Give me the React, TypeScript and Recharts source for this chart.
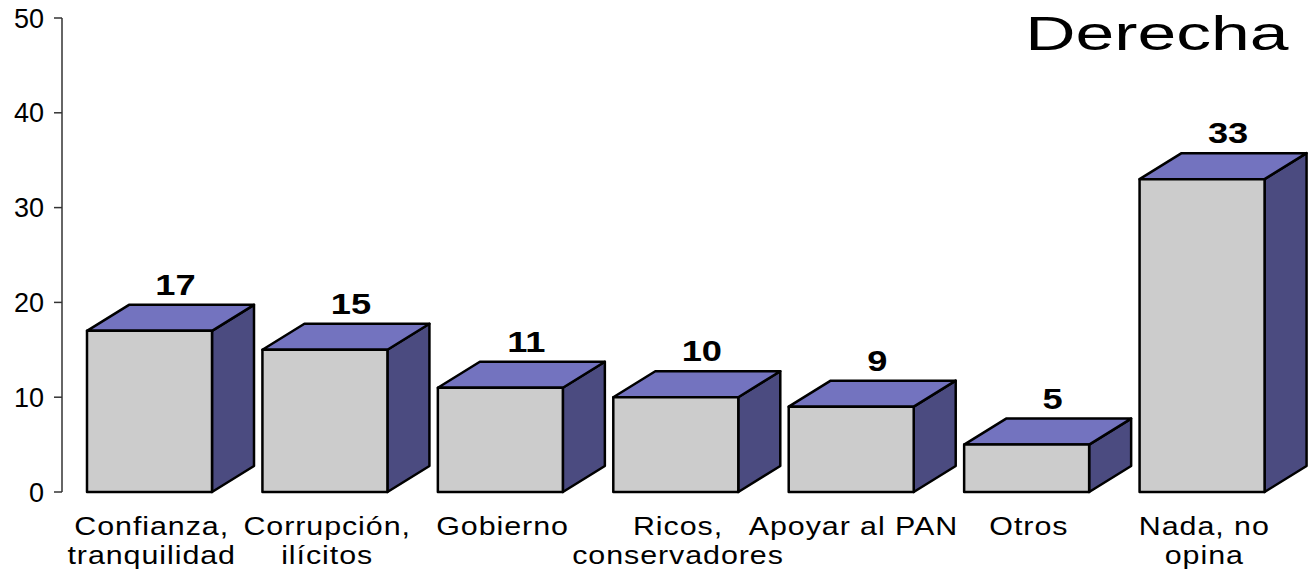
import { BarChart, Bar, XAxis, YAxis, LabelList } from 'recharts';

const categories = [
  'Confianza,\ntranquilidad',
  'Corrupción,\nilícitos',
  'Gobierno',
  'Ricos,\nconservadores',
  'Apoyar al PAN',
  'Otros',
  'Nada, no\nopina',
];
const values = [17, 15, 11, 10, 9, 5, 33];
const yTicks = [0, 10, 20, 30, 40, 50];

const data = categories.map((name, i) => ({ name, value: values[i] }));

const DX = 42;
const DY = 26;
const FONT = "'Liberation Sans', Arial, sans-serif";

function Box3D(props: any) {
  const { x, y, width, height } = props;
  if (width == null || height == null) return null;
  const stroke = { stroke: '#000', strokeWidth: 2.5, strokeLinejoin: 'round' as const };
  return (
    <g>
      <polygon
        points={`${x + width},${y} ${x + width + DX},${y - DY} ${x + width + DX},${y + height - DY} ${x + width},${y + height}`}
        fill="#4b4b80"
        {...stroke}
      />
      <polygon
        points={`${x},${y} ${x + DX},${y - DY} ${x + width + DX},${y - DY} ${x + width},${y}`}
        fill="#7373bf"
        {...stroke}
      />
      <rect x={x} y={y} width={width} height={height} fill="#cccccc" {...stroke} />
    </g>
  );
}

function ValueLabel(props: any) {
  const { x, y, width, value } = props;
  return (
    <text
      transform={`translate(${x + width / 2 + DX / 2 + 5},${y - DY - 10}) scale(1.25,1)`}
      textAnchor="middle"
      fontFamily={FONT}
      fontWeight="bold"
      fontSize={29}
      fill="#000"
    >
      {value}
    </text>
  );
}

function CategoryTick(props: any) {
  const { x, y, payload } = props;
  const lines = String(payload.value).split('\n');
  return (
    <text
      transform={`translate(${x + 2},${y}) scale(1.17,1)`}
      textAnchor="middle"
      fontFamily={FONT}
      fontSize={26}
      letterSpacing={0.8}
      fill="#000"
    >
      {lines.map((l, i) => (
        <tspan key={i} x={0} y={43 + i * 29}>
          {l}
        </tspan>
      ))}
    </text>
  );
}

export default function App() {
  return (
    <div style={{ position: 'absolute', left: 0, top: 0, width: 1310, height: 573, background: '#fff' }}>
      <BarChart
        width={1310}
        height={573}
        data={data}
        margin={{ top: 18, right: 20, left: 0, bottom: 0 }}
      >
        <XAxis
          dataKey="name"
          axisLine={false}
          tickLine={false}
          tickSize={0}
          tickMargin={0}
          height={81}
          interval={0}
          tick={<CategoryTick />}
        />
        <YAxis
          width={62}
          domain={[0, 50]}
          ticks={yTicks}
          interval={0}
          axisLine={{ stroke: '#333', strokeWidth: 1.5 }}
          tickLine={{ stroke: '#333', strokeWidth: 1.5 }}
          tickSize={8}
          tickMargin={10}
          tick={{ fill: '#000', fontSize: 27, fontFamily: FONT }}
        />
        <Bar dataKey="value" barSize={125} shape={<Box3D />} isAnimationActive={false}>
          <LabelList dataKey="value" content={<ValueLabel />} />
        </Bar>
      </BarChart>
      <div
        style={{
          position: 'absolute',
          right: 22,
          top: 6,
          fontFamily: FONT,
          fontSize: 48,
          lineHeight: '56px',
          color: '#000',
          transform: 'scaleX(1.45)',
          transformOrigin: 'right center',
          whiteSpace: 'nowrap',
        }}
      >
        Derecha
      </div>
    </div>
  );
}
